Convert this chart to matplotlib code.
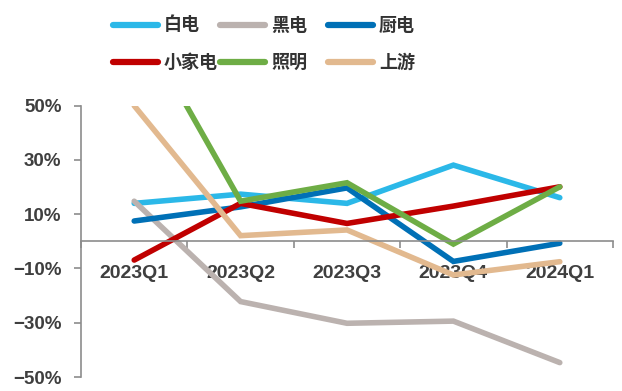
import matplotlib.pyplot as plt
from matplotlib.lines import Line2D
from matplotlib.ticker import FixedLocator, FuncFormatter

quarters = ['2023Q1', '2023Q2', '2023Q3', '2023Q4', '2024Q1']

# 同比增速, %
white_goods = [14.0, 17.4, 14.0, 28.1, 16.1]
black_goods = [14.8, -22.2, -30.2, -29.4, -44.7]
kitchen = [7.5, 12.7, 19.7, -7.4, -0.7]
small_appliance = [-6.9, 14.0, 6.6, 13.0, 20.1]
lighting = [84.0, 14.8, 21.6, -1.0, 20.1]
upstream = [50.0, 2.1, 4.2, -12.4, -7.5]

series_names = ['白电', '黑电', '厨电', '小家电', '照明', '上游']
series_values = [white_goods, black_goods, kitchen, small_appliance, lighting, upstream]
series_colors = ['#2BB8E8', '#BBB2AF', '#0070B6', '#C00000', '#6EAD45', '#E2B98F']

W, H = 622, 391
fig = plt.figure(figsize=(W / 100, H / 100), dpi=100)
ax = fig.add_axes([81 / W, 1 - 377 / H, 532 / W, (377 - 105.7) / H])

x = list(range(len(quarters)))
for vals, col in zip(series_values, series_colors):
    ax.plot(x, vals, color=col, lw=4.0, solid_capstyle='round', solid_joinstyle='miter')

ax.set_xlim(-0.5, len(quarters) - 0.5)
ax.set_ylim(-50, 50)

axis_col = '#8C8C8C'
for s in ['top', 'right']:
    ax.spines[s].set_visible(False)
ax.spines['left'].set_color(axis_col)
ax.spines['bottom'].set_color(axis_col)
ax.spines['bottom'].set_position(('data', 0))
ax.spines['left'].set_linewidth(1.2)
ax.spines['bottom'].set_linewidth(1.2)

ax.set_yticks([-50, -30, -10, 10, 30, 50])
ax.yaxis.set_major_formatter(FuncFormatter(lambda v, p: f'{v:.0f}%'.replace('-', '\u2212')))
ax.tick_params(axis='y', direction='out', length=5, color=axis_col, width=1.2,
               labelsize=13.5, labelcolor='#3F3F3F', pad=9)

ax.set_xticks(x)
ax.set_xticklabels(quarters)
ax.xaxis.set_minor_locator(FixedLocator([i - 0.5 for i in range(len(quarters) + 1)]))
ax.tick_params(axis='x', which='major', length=0, labelsize=14, labelcolor='#3F3F3F', pad=17)
ax.tick_params(axis='x', which='minor', direction='out', length=5, color=axis_col, width=1.2)
for lbl in ax.get_xticklabels() + ax.get_yticklabels():
    lbl.set_family('Liberation Sans')
    lbl.set_fontweight('bold')

# legend, 3 columns x 2 rows
col_x = [113, 220, 328]
row_y = [25, 62]
for i, (name, col) in enumerate(zip(series_names, series_colors)):
    cx = col_x[i % 3]
    cy = row_y[i // 3]
    fig.add_artist(Line2D([cx / W, (cx + 45) / W], [1 - cy / H, 1 - cy / H],
                          color=col, lw=4.5, solid_capstyle='round'))
    fig.text((cx + 51) / W, 1 - cy / H, name, fontsize=13, fontweight='bold',
             color='#333333', va='center', ha='left', family='Noto Sans CJK SC')

fig.savefig('out.png', dpi=100)
